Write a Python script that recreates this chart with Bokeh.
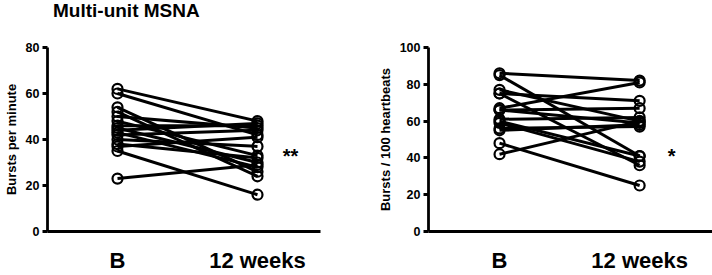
from bokeh.plotting import figure
from bokeh.layouts import row, column
from bokeh.models import Range1d, FixedTicker, Label, ColumnDataSource, Div
from bokeh.embed import file_html
from bokeh.resources import INLINE

categories = ["B", "12 weeks"]
title_text = "Multi-unit MSNA"

# Bursts per minute (baseline, 12 weeks), paired per subject
bpm_baseline = [62, 60, 54, 52, 50, 48, 46, 45, 44, 43, 42, 40, 38, 37, 35, 23]
bpm_12weeks = [48, 42, 26, 24, 45, 33, 46, 30, 47, 28, 44, 37, 32, 41, 16, 29]

# Bursts / 100 heartbeats (baseline, 12 weeks)
bhb_baseline = [86, 85, 77, 75, 75, 67, 66, 66, 60, 59, 56, 55, 48, 42, 61]
bhb_12weeks = [82, 41, 60, 71, 36, 81, 67, 59, 41, 38, 57, 58, 25, 60, 62]

left_ticks = [0, 20, 40, 60, 80]
right_ticks = [0, 20, 40, 60, 80, 100]

FONT = "Liberation Sans"
xpos = {c: i + 1 for i, c in enumerate(categories)}


def make_panel(base, wk, ymax, yticks, ylabel, width, border_left, border_right,
               xstart, xend, star=None, star_xy=(0, 0)):
    p = figure(width=width, height=253, output_backend="svg", toolbar_location=None,
               x_range=Range1d(xstart, xend), y_range=Range1d(0, ymax),
               min_border_left=border_left, min_border_right=border_right,
               min_border_top=25, min_border_bottom=42)
    p.outline_line_color = None
    p.grid.visible = False
    p.background_fill_color = "white"
    p.border_fill_color = "white"

    src = ColumnDataSource(dict(
        x0=[xpos[categories[0]]] * len(base), y0=base,
        x1=[xpos[categories[1]]] * len(wk), y1=wk))
    p.segment("x0", "y0", "x1", "y1", source=src, line_color="black", line_width=3)
    p.scatter("x0", "y0", source=src, size=10, marker="circle", fill_alpha=0,
              line_color="black", line_width=2.2)
    p.scatter("x1", "y1", source=src, size=10, marker="circle", fill_alpha=0,
              line_color="black", line_width=2.2)

    # y axis
    ya = p.yaxis[0]
    ya.ticker = FixedTicker(ticks=yticks)
    ya.axis_label = ylabel
    ya.axis_label_text_font = FONT
    ya.axis_label_text_font_size = "13px"
    ya.axis_label_text_font_style = "bold"
    ya.axis_label_standoff = 4
    ya.major_label_text_font = FONT
    ya.major_label_text_font_size = "12.5px"
    ya.major_label_text_font_style = "bold"
    ya.major_label_standoff = 3
    ya.major_tick_out = 5
    ya.major_tick_in = 0
    ya.minor_tick_out = 0
    ya.minor_tick_in = 0
    ya.axis_line_width = 2.8
    ya.major_tick_line_width = 2.8
    ya.axis_line_color = "black"
    ya.major_label_text_color = "black"
    ya.axis_label_text_color = "black"

    # x axis
    xa = p.xaxis[0]
    xa.ticker = FixedTicker(ticks=[xpos[c] for c in categories])
    xa.major_label_overrides = {xpos[c]: c for c in categories}
    xa.major_label_text_font = FONT
    xa.major_label_text_font_size = "22px"
    xa.major_label_text_font_style = "bold"
    xa.major_label_text_color = "black"
    xa.major_label_standoff = 16
    xa.major_tick_out = 0
    xa.major_tick_in = 0
    xa.minor_tick_out = 0
    xa.minor_tick_in = 0
    xa.axis_line_width = 2.8
    xa.axis_line_color = "black"

    if star:
        p.add_layout(Label(x=star_xy[0], y=star_xy[1], text=star, text_font=FONT,
                           text_font_size="20px", text_font_style="bold",
                           text_baseline="middle", text_align="left",
                           text_color="black"))
    return p


left = make_panel(bpm_baseline, bpm_12weeks, 80, left_ticks, "Bursts per minute",
                  348, 47, 28, 0.5, 2.45, star="**", star_xy=(2.18, 32.7))
right = make_panel(bhb_baseline, bhb_12weeks, 100, right_ticks, "Bursts / 100 heartbeats",
                   364, 80, 0, 0.493, 2.52, star="*", star_xy=(2.2, 40.9))

title = Div(text=title_text, width=712, height=22, margin=(0, 0, 0, 0),
            styles={"font-family": FONT, "font-size": "19px", "font-weight": "bold",
                    "line-height": "22px", "padding-left": "53px", "color": "black"})

layout = column(title, row(left, right, spacing=0), spacing=0)
open("out.html", "w").write(file_html(layout, INLINE))
